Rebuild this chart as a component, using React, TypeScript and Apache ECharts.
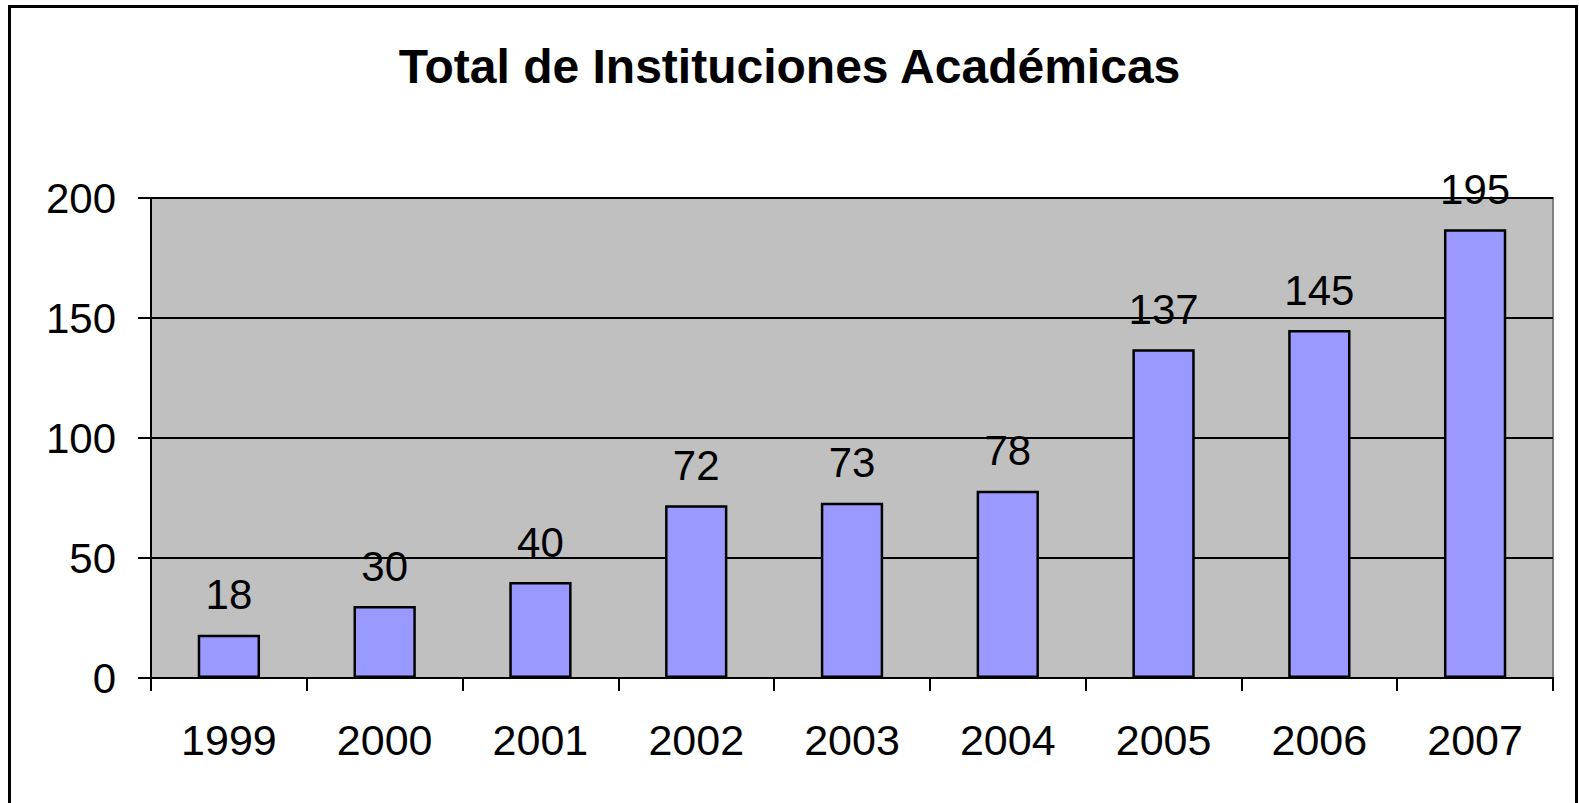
import React, { useEffect, useRef } from "react";
import * as echarts from "echarts";

const titleText = "Total de Instituciones Académicas";
const years = ["1999", "2000", "2001", "2002", "2003", "2004", "2005", "2006", "2007"];
const barValues = [18, 30, 40, 72, 73, 78, 137, 145, 187];
const barLabels = ["18", "30", "40", "72", "73", "78", "137", "145", "195"];
const yMin = 0;
const yMax = 200;
const yStep = 50;

const FONT = "'Liberation Sans', Arial, sans-serif";

export default function App() {
  const ref = useRef<HTMLDivElement>(null);
  useEffect(() => {
    if (!ref.current) return;
    const chart = echarts.init(ref.current, null, { renderer: "svg" });
    chart.setOption({
      animation: false,
      backgroundColor: "#ffffff",
      title: {
        text: titleText,
        left: "center",
        top: 37,
        textStyle: { fontFamily: FONT, fontSize: 48, fontWeight: "bold", color: "#000" },
      },
      graphic: [
        {
          type: "rect",
          shape: { x: 9.5, y: 6.5, width: 1567, height: 810 },
          style: { fill: "none", stroke: "#000", lineWidth: 3 },
          silent: true,
          z: 100,
        },
      ],
      grid: {
        left: 151,
        top: 198,
        right: 26,
        bottom: 125,
        show: true,
        backgroundColor: "#C0C0C0",
        borderColor: "#808080",
        borderWidth: 2,
      },
      xAxis: {
        type: "category",
        data: years,
        boundaryGap: true,
        axisLine: { show: true, lineStyle: { color: "#000", width: 2 } },
        axisTick: { show: true, length: 13, inside: false, lineStyle: { color: "#000", width: 2 } },
        axisLabel: { fontFamily: FONT, fontSize: 43, color: "#000", margin: 40 },
        splitLine: { show: false },
      },
      yAxis: {
        type: "value",
        min: yMin,
        max: yMax,
        interval: yStep,
        axisLine: { show: true, lineStyle: { color: "#000", width: 2 } },
        axisTick: { show: true, length: 13, inside: false, lineStyle: { color: "#000", width: 2 } },
        axisLabel: { fontFamily: FONT, fontSize: 42, color: "#000", margin: 35 },
        splitLine: { show: true, lineStyle: { color: "#000", width: 2 } },
      },
      series: [
        {
          type: "bar",
          data: barValues,
          barCategoryGap: "60%",
          itemStyle: { color: "#9999FF", borderColor: "#000", borderWidth: 2.5 },
          label: {
            show: true,
            position: "top",
            distance: 19,
            fontFamily: FONT,
            fontSize: 42,
            color: "#000",
            formatter: (p: any) => barLabels[p.dataIndex],
          },
        },
      ],
    });
    return () => chart.dispose();
  }, []);
  return (
    <div
      ref={ref}
      style={{ position: "fixed", left: 0, top: 0, width: 1579, height: 803 }}
    />
  );
}
